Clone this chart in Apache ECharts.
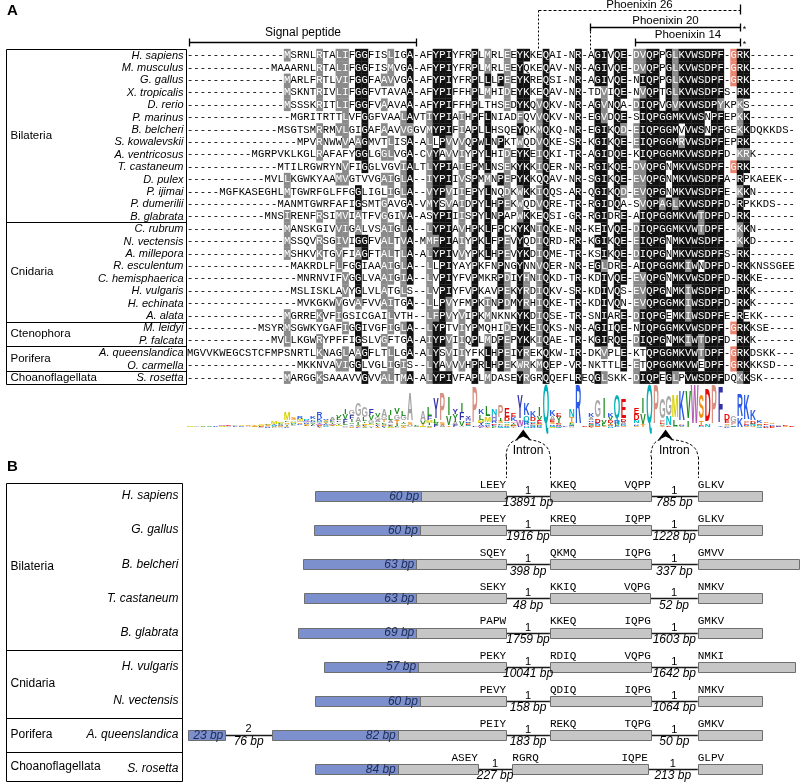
<!DOCTYPE html>
<html>
<head>
<meta charset="utf-8">
<script src="https://cdn.jsdelivr.net/npm/echarts@6.0.0/dist/echarts.min.js"></script>
<style>
html,body{margin:0;padding:0;background:#ffffff;}
#chart{width:800px;height:783px;}
</style>
</head>
<body>
<div id="chart"></div>
<script>
// ================= Panel A data =================
const species = ['H. sapiens','M. musculus','G. gallus','X. tropicalis','D. rerio','P. marinus','B. belcheri',
  'S. kowalevskii','A. ventricosus','T. castaneum','D. pulex','P. ijimai','P. dumerilii','B. glabrata',
  'C. rubrum','N. vectensis','A. millepora','R. esculentum','C. hemisphaerica','H. vulgaris','H. echinata','A. alata',
  'M. leidyi','P. falcata','A. queenslandica','O. carmella','S. rosetta'];
const groupNames = ['Bilateria','Cnidaria','Ctenophora','Porifera','Choanoflagellata'];
const groupSizes = [14, 8, 2, 2, 1];
const seqLeadGaps = [15,13,15,15,15,16,14,17,10,14,12,5,14,12,15,15,15,16,17,16,17,15,11,13,0,17,15];
const seqBodies = [
  'MSRNLRTALIFGGFISLIGA-AFYPIYFRPLMRLEEYKKEQAI-NR-AGIVQE-DVQPPGLKVWSDPF-GRK',
  'MAAARNLRTALIFGGFISMVGA-AFYPIYFRPLMRLEEYQKEQAV-NR-AGIVQE-DVQPPGLKVWSDPF-GRK',
  'MARLFRTLVIFGGFAAVVGA-AFYPIYFRPLLLPEEYKREQSI-NR-AGIVQE-NIQPPGLKVWSDPF-GRK',
  'MSKNTRIVLIFGGFVTAVAA-AFYPIFFHPLMHIDEYKKEQAV-NR-TDVIQE-NVQPTGLKVWSDPFS-RK',
  'MSSSKRITLIFGGFVAAVAA-AFYPIFFHPLTHSEDYKQVQKV-NR-AGVNQA-DIQPVGVKVWSDPYKPKS',
  'MGRITRTTLVFGGFVAALAVTIYPIAIHPFLNIADFQVVQKV-NR-EGVDQE-SIQPGGMKVWSNPFEPKK',
  'MSGTSMRRMVLGIGAFAAVVGGVMYPIFIAPLLHSQEYQKMQKQ-NR-EGIKQD-EIQPGGMVVWSNPFGEKKDQKKDS',
  'MPVRNWWVAAGMVTLISA-ALLPVVVQPWLNPKTWQDVQKE-SR-KGIKQE-EIQPGGMRVWSDPFEPRK',
  'MGRPVKLKGLRAFAFYGGLGGLVGA-CVYAVVIYPYLHIDEYKEIQKI-TR-AGIDQE-KIQPGGMKVWSDPFD-KRK',
  'MTILRGWRYNVFIGGLVGVIALTLYPIAIEPMLNSEKYKKIQER-NR-RGIKQE-DVQPGNMKVWSDPF-GRK',
  'MVLLKGWKYAAMVGTVVGAIGLA--IYPIIVSPMMNPEPYKKQQAV-NR-SGIKQE-EVQPGNMKVWSDPFA-RPKAEEK',
  'MGFKASEGHLMTGWRFGLFFGGLIGLIGLA--VYPVIIEPYLNQDKWKKIQQS-AR-QGIKQD-EVQPGNMKVWSDPFE-KKN',
  'MANMTGWRFAFIGSMTGAVGA-VMYSVAIDPYLHPEKWQDVQRE-TR-RGIDQA-SVQPAGLKVWSDPFD-RPKKDS',
  'MNSIRENFRSIMVIATFVGGIVA-ASYPIIISPYLNPAPWKKEQSI-GR-RGIDRE-AIQPGGMKVWTDPFD-RK',
  'MANSKGIVVIGALVSAIGLA--LYPIAVHPKLFPCKYKNIQKE-NR-KEIVQE-DIQPGGMKVWTDPF--KKN',
  'MSSQVRSGIVIGGFVALTVA-MMFPIAIYPKLFPEVYQDIQRD-RR-KGIKQE-EIQPGNMKVWSDPF--KKD',
  'MSHKVKTGVFIAGFTALTLA-ALYPIVVYPKLHPEVYKDIQME-TR-KSIKQE-DIQPGNMKVWSDPFS-RK',
  'MAKRDLFLFGGIAAAIGLA--LLPIYAYPKFNPNGYNNVQER-NR-EGLDRE-AIQPGGMKIWNDPFD-RKKNSSGEE',
  'MNRNVIFVGGLVAAIGIA--LVPIYFVPMKRPDIYHNIQKD-TR-KDIVQE-EVQPGNMKVWSDPFD-RKKE',
  'MSLISKLAVYGLVLATGLS--LVPIYFVPKAVPEKYRDIQKV-SR-KDIVQS-EVQPGNMKIWSDPFD-RKK',
  'MVKGKWVGVAFVVAITGA--LLPVYFMPKINPDMYRHIQKE-TR-KDIVQN-EVQPGGMKIWSDPFD-RKK',
  'MGRREKVFIGSICGAILVTH--LFPVYVIPKMNKNKYKDIQSE-TR-SNIARE-DIQPGEMKIWSDPFE-REKK',
  'MSYRMSGWKYGAFIGGIVGFIGLA--LYPTVIYPMQHIDEYKEIQKS-NR-AGIIQE-NIQPGGMKVWSDPF-GRKKSE',
  'MVLLKGWRYPFFIGSLVGFTGA-AIYPVIIQPLMDPEPYKKIQAE-TR-KGIRQE-DIQPGNMKIWTDPFD-RKK',
  'MGVVKWEGCSTCFMPSNRTLKNAGLAAGFLTLLGA-ALYSVIIYFKLHPEIYREKQKW-IR-DKVPLE-KTQPGGMKVWTDPF-GRKDSKK',
  'MKKNVAVIGGLVGLIGIS--LYAVVVHPRLHPEKWRKMQEP-VR-NKTTLE-ETQPGGMKVWEDPF-GRKKKSD',
  'MARGGKSAAAVVGVVALTMA-ALYPIVFAPLMDASEYRGRQQEFLREQGLSKK-DIQPEGLPVWSDPFDQKKSK'
];
const alignmentLength = 94;
const amidationColumn = 85;
const regionNames = ['Signal peptide', 'Phoenixin 26', 'Phoenixin 20', 'Phoenixin 14'];
const regionStartCol = [1, 55, 63, 70];
const regionEndCol = [35, 85, 85, 85];
const intronAfterCol = [52, 74];

// ================= Panel B data =================
const geneSpecies = ['H. sapiens','G. gallus','B. belcheri','T. castaneum','B. glabrata','H. vulgaris','N. vectensis','A. queenslandica','S. rosetta'];
const geneGroupNames = ['Bilateria','Cnidaria','Porifera','Choanoflagellata'];
const geneGroupSizes = [5, 2, 1, 1];
const signalExonBp = ['60 bp','60 bp','63 bp','63 bp','69 bp','57 bp','60 bp','82 bp','84 bp'];
// schematic (not-to-scale) positions of exon boundaries, 0-100
const cdsStart   = [21.3, 21.1, 19.3, 19.5, 18.5, 22.7, 21.3, 14.3, 21.3];
const signalEnd  = [38.5, 38.3, 37.7, 37.7, 37.7, 38.0, 38.3, 34.7, 34.7];
const exon1End   = [52.3, 52.3, 52.3, 52.3, 52.3, 52.3, 52.3, 52.3, 47.7];
const exon2Start = [59.4, 59.4, 59.4, 59.4, 59.4, 59.4, 59.4, 59.4, 53.3];
const exon2End   = [75.8, 75.8, 75.8, 75.7, 75.8, 75.8, 75.8, 75.8, 75.3];
const exon3Start = [83.4, 83.4, 83.4, 83.4, 83.4, 83.4, 83.4, 83.4, 83.4];
const exon3End   = [93.8, 93.8, 99.8, 93.8, 93.8, 99.2, 93.8, 93.8, 93.8];
const junctionA = ['LEEY','PEEY','SQEY','SEKY','PAPW','PEKY','PEVY','PEIY','ASEY'];
const junctionB = ['KKEQ','KREQ','QKMQ','KKIQ','KKEQ','RDIQ','QDIQ','REKQ','RGRQ'];
const junctionC = ['VQPP','IQPP','IQPG','VQPG','IQPG','VQPG','IQPG','TQPG','IQPE'];
const junctionD = ['GLKV','GLKV','GMVV','NMKV','GMKV','NMKI','NMKV','GMKV','GLPV'];
const intron1Phase = ['1','1','1','1','1','1','1','1','1'];
const intron2Phase = ['1','1','1','1','1','1','1','1','1'];
const intron1Len = ['13891 bp','1916 bp','398 bp','48 bp','1759 bp','10041 bp','158 bp','183 bp','227 bp'];
const intron2Len = ['785 bp','1228 bp','337 bp','52 bp','1603 bp','1642 bp','1064 bp','50 bp','213 bp'];
const upExonRow = 7;
const upExonStart = 0.7, upExonEnd = 6.7;
const upExonBp = '23 bp', upIntronPhase = '2', upIntronLen = '76 bp';

// ================= styling =================
const SANS = '"Liberation Sans", Arial, sans-serif';
const MONO = '"Liberation Mono", "Courier New", monospace';
const SHADE_FILL = [null, '#8a8a8a', '#111111', '#e9846e'];
const BLUE = '#7b90cc', GREY = '#c6c6c6', BAR_STROKE = '#6e6e6e', BLUE_TEXT = '#1e2b57';
const LOGO_COLORS = {D:'#e60a0a',E:'#e60a0a',C:'#d8d000',M:'#d8d000',K:'#2a5ae6',R:'#2a5ae6',S:'#f09010',T:'#f09010',
  F:'#3232aa',Y:'#3232aa',N:'#00b8c8',Q:'#00b0b8',G:'#a8a8a8',L:'#1a8a1a',V:'#1a8a1a',I:'#1a8a1a',A:'#a0a0a0',
  W:'#b45ab4',H:'#8282d2',P:'#d89080'};
const TABLE_LEFT = 6;
const LOGO_GAP = 44, PX_PER_BIT = 9.2;

// ================= derived =================
const ROWS = species.length;
const alignment = seqBodies.map((b, i) => {
  let s = '-'.repeat(seqLeadGaps[i]) + b;
  if (s.length < alignmentLength) s += '-'.repeat(alignmentLength - s.length);
  return s.slice(0, alignmentLength);
});
const simGroups = ['ILVM','FYW','KRH','DE','NQ','ST','AG'];
const groupOf = ch => { for (const g of simGroups) if (g.indexOf(ch) >= 0) return g; return ch; };
const THRESH = Math.ceil(ROWS * 0.5);
const shadeGrid = alignment.map(() => new Array(alignmentLength).fill(0));
const logoStacks = [];
for (let c = 0; c < alignmentLength; c++) {
  const cnt = {}, gcnt = {}; let n = 0;
  for (let r = 0; r < ROWS; r++) {
    const ch = alignment[r][c]; if (ch === '-') continue;
    n++; cnt[ch] = (cnt[ch] || 0) + 1; const g = groupOf(ch); gcnt[g] = (gcnt[g] || 0) + 1;
  }
  let top = null, nt = 0; for (const k in cnt) if (cnt[k] > nt) { nt = cnt[k]; top = k; }
  let tg = null, ng = 0; for (const k in gcnt) if (gcnt[k] > ng) { ng = gcnt[k]; tg = k; }
  for (let r = 0; r < ROWS; r++) {
    const ch = alignment[r][c]; if (ch === '-') continue;
    if (nt >= THRESH) {
      if (ch === top) shadeGrid[r][c] = 2; else if (groupOf(ch) === groupOf(top)) shadeGrid[r][c] = 1;
    } else if (ng >= THRESH && groupOf(ch) === tg) shadeGrid[r][c] = 1;
    if (c + 1 === amidationColumn && ch === 'G') shadeGrid[r][c] = 3;
  }
  // logo stack
  const stack = [];
  if (n > 0) {
    let H = 0; for (const k in cnt) { const f = cnt[k] / n; H -= f * Math.log2(f); }
    const ic = Math.max(0, Math.log2(20) - H) * (n / ROWS);
    for (const k in cnt) stack.push({ch: k, bits: cnt[k] / n * ic});
    stack.sort((a, b) => a.bits - b.bits);
  }
  logoStacks.push(stack);
}
const cellData = [];
for (let r = 0; r < ROWS; r++) for (let c = 1; c <= alignmentLength; c++) cellData.push([c, r]);
const logoData = []; for (let c = 1; c <= alignmentLength; c++) logoData.push([c, 0]);
const geneData = geneSpecies.map((s, r) => [0, r]);

const crisp = v => Math.round(v) + 0.5;
const mkLine = (x1, y1, x2, y2, st) => ({type: 'line', shape: {x1, y1, x2, y2}, style: Object.assign({stroke: '#000', lineWidth: 1}, st || {})});
const mkText = (t, x, y, st) => ({type: 'text', x, y, style: Object.assign({text: t, fill: '#000', fontFamily: SANS, fontSize: 11, align: 'center', verticalAlign: 'middle'}, st || {})});

function cellRender(params, api) {
  const c = api.value(0), r = api.value(1);
  const p0 = api.coord([c - 0.5, r - 0.5]), p1 = api.coord([c + 0.5, r + 0.5]);
  const ch = alignment[r][c - 1], s = shadeGrid[r][c - 1];
  const kids = [];
  if (s) kids.push({type: 'rect', shape: {x: p0[0], y: p0[1], width: p1[0] - p0[0] + 0.3, height: p1[1] - p0[1] + 0.3}, style: {fill: SHADE_FILL[s]}});
  kids.push(mkText(ch, (p0[0] + p1[0]) / 2, (p0[1] + p1[1]) / 2 + 0.5, {fontFamily: MONO, fontSize: 10.5, fill: s ? '#ffffff' : '#000'}));
  return {type: 'group', children: kids};
}

function logoRender(params, api) {
  const c = api.value(0);
  const stack = logoStacks[c - 1];
  const x = api.coord([c, 0])[0];
  const w = api.coord([c + 0.5, 0])[0] - api.coord([c - 0.5, 0])[0];
  const base = api.coord([c, ROWS - 0.5])[1] + LOGO_GAP;
  const kids = []; let acc = 0;
  const FS = 20;
  for (const it of stack) {
    const h = it.bits * PX_PER_BIT;
    if (h < 0.35) { acc += h; continue; }
    kids.push({type: 'text', x: x, y: base - acc - h / 2, scaleX: (w * 0.92) / (0.72 * FS), scaleY: h / (0.716 * FS),
      style: {text: it.ch, fill: LOGO_COLORS[it.ch] || '#666', fontFamily: SANS, fontWeight: 'bold', fontSize: FS, align: 'center', verticalAlign: 'middle'}});
    acc += h;
  }
  return {type: 'group', children: kids};
}

function annotationRender(params, api) {
  const kids = [];
  const colLeft = c => api.coord([c - 0.5, 0])[0];
  const colRight = c => api.coord([c + 0.5, 0])[0];
  const rowY = r => api.coord([1, r])[1];
  const top = crisp(rowY(-0.5)), bottom = crisp(rowY(ROWS - 0.5));
  const right = crisp(colLeft(1) - 1), left = crisp(TABLE_LEFT);
  kids.push(mkLine(left, top, right, top), mkLine(left, bottom, right, bottom), mkLine(left, top, left, bottom), mkLine(right, top, right, bottom));
  let start = 0;
  groupSizes.forEach((n, gi) => {
    if (gi > 0) kids.push(mkLine(left, crisp(rowY(start - 0.5)), right, crisp(rowY(start - 0.5))));
    kids.push(mkText(groupNames[gi], left + 4, (rowY(start - 0.5) + rowY(start + n - 0.5)) / 2, {align: 'left', fontSize: 11.5}));
    start += n;
  });
  species.forEach((s, r) => kids.push(mkText(s, right - 3, rowY(r) + 0.5, {align: 'right', fontStyle: 'italic', fontSize: 11})));
  // region brackets
  const tTop = rowY(-0.5);
  const lv = [ {ly: tTop - 7, ty: tTop - 16}, {ly: tTop - 39, ty: tTop - 44}, {ly: tTop - 22, ty: tTop - 28}, {ly: tTop - 7, ty: tTop - 14} ];
  regionNames.forEach((nm, i) => {
    const x0 = crisp(colLeft(regionStartCol[i]) + 2), x1 = crisp(colRight(regionEndCol[i]) + 3);
    const ly = crisp(lv[i].ly);
    const labelSt = {fontSize: i === 0 ? 12 : 11.5};
    if (i === 1) {
      kids.push(mkLine(x0, ly, x1, ly, {lineDash: [3, 2]}));
      kids.push(mkLine(x0, ly, x0, crisp(tTop), {lineDash: [2, 2]}));
      kids.push(mkLine(x1, ly - 6, x1, ly + 4, {lineWidth: 1.3}));
    } else {
      kids.push(mkLine(x0, ly, x1, ly, {lineWidth: 1.4}));
      kids.push(mkLine(x0, ly - 4, x0, ly + 4, {lineWidth: 1.3}));
      kids.push(mkLine(x1, ly - 4, x1, ly + 4, {lineWidth: 1.3}));
      if (i === 2) kids.push(mkLine(x0, ly + 4, x0, crisp(tTop), {lineDash: [2, 2]}));
      if (i >= 2) kids.push(mkText('*', x1 + 4, ly + 2, {fontSize: 9}));
    }
    kids.push(mkText(nm, (x0 + x1) / 2, lv[i].ty, labelSt));
  });
  return {type: 'group', children: kids};
}

function geneRender(params, api) {
  const r = api.value(1);
  const y = api.coord([0, r])[1];
  const X = u => api.coord([u, r])[0];
  const H = 10;
  const kids = [];
  const rect = (u0, u1, fill) => ({type: 'rect', shape: {x: crisp(X(u0)), y: crisp(y - H / 2), width: Math.round(X(u1) - X(u0)), height: H}, style: {fill, stroke: BAR_STROKE, lineWidth: 1}});
  const hline = (u0, u1) => mkLine(X(u0), crisp(y), X(u1), crisp(y), {stroke: '#1a1a1a', lineWidth: 1.5});
  if (r === upExonRow) {
    kids.push(hline(upExonEnd, cdsStart[r]));
    kids.push(rect(upExonStart, upExonEnd, BLUE));
    kids.push(mkText(upExonBp, X(upExonEnd) - 2, y + 0.5, {align: 'right', fontStyle: 'italic', fontSize: 12, fill: BLUE_TEXT}));
    const mid = (X(upExonEnd) + X(cdsStart[r])) / 2;
    kids.push(mkText(upIntronPhase, mid, y - 6, {fontSize: 11}));
    kids.push(mkText(upIntronLen, mid, y + 7, {fontStyle: 'italic', fontSize: 12}));
  }
  kids.push(hline(exon1End[r], exon2Start[r]), hline(exon2End[r], exon3Start[r]));
  kids.push(rect(cdsStart[r], signalEnd[r], BLUE), rect(signalEnd[r], exon1End[r], GREY), rect(exon2Start[r], exon2End[r], GREY), rect(exon3Start[r], exon3End[r], GREY));
  kids.push(mkText(signalExonBp[r], X(signalEnd[r]) - 2, y + 0.5, {align: 'right', fontStyle: 'italic', fontSize: 12, fill: BLUE_TEXT}));
  const jst = {fontFamily: MONO, fontSize: 11};
  kids.push(mkText(junctionA[r], X(exon1End[r]), y - 11, Object.assign({align: 'right'}, jst)));
  kids.push(mkText(junctionB[r], X(exon2Start[r]), y - 11, Object.assign({align: 'left'}, jst)));
  kids.push(mkText(junctionC[r], X(exon2End[r]), y - 11, Object.assign({align: 'right'}, jst)));
  kids.push(mkText(junctionD[r], X(exon3Start[r]), y - 11, Object.assign({align: 'left'}, jst)));
  const m1 = (X(exon1End[r]) + X(exon2Start[r])) / 2, m2 = (X(exon2End[r]) + X(exon3Start[r])) / 2;
  kids.push(mkText(intron1Phase[r], m1, y - 5, {fontSize: 11}), mkText(intron1Len[r], m1, y + 7, {fontStyle: 'italic', fontSize: 12}));
  kids.push(mkText(intron2Phase[r], m2, y - 5, {fontSize: 11}), mkText(intron2Len[r], m2, y + 7, {fontStyle: 'italic', fontSize: 12}));
  return {type: 'group', children: kids};
}

function geneTableRender(params, api) {
  const kids = [];
  const rowY = r => api.coord([0, r])[1];
  const top = crisp(rowY(-0.38)), bottom = crisp(rowY(8.38) - 1);
  const right = crisp(api.coord([0, 0])[0] - 2), left = crisp(TABLE_LEFT);
  kids.push(mkLine(left, top, right, top), mkLine(left, bottom, right, bottom), mkLine(left, top, left, bottom), mkLine(right, top, right, bottom));
  let start = 0;
  geneGroupSizes.forEach((n, gi) => {
    const yTop = gi === 0 ? rowY(-0.38) : rowY(start - 0.5);
    const yBot = gi === geneGroupSizes.length - 1 ? rowY(8.38) : rowY(start + n - 0.5);
    if (gi > 0) kids.push(mkLine(left, crisp(yTop), right, crisp(yTop)));
    kids.push(mkText(geneGroupNames[gi], left + 4, (yTop + yBot) / 2, {align: 'left', fontSize: 12}));
    start += n;
  });
  geneSpecies.forEach((s, r) => kids.push(mkText(s, right - 4, rowY(r), {align: 'right', fontStyle: 'italic', fontSize: 12})));
  return {type: 'group', children: kids};
}

const chart = echarts.init(document.getElementById('chart'), null, {renderer: 'canvas', width: 800, height: 783});
chart.setOption({
  animation: false,
  backgroundColor: '#ffffff',
  grid: [
    {left: 186.8, top: 48.8, width: 608.2, height: 334.8},
    {left: 184, top: 483, width: 616, height: 299}
  ],
  xAxis: [
    {gridIndex: 0, type: 'value', min: 0.5, max: alignmentLength + 0.5, show: false},
    {gridIndex: 1, type: 'value', min: 0, max: 100, show: false}
  ],
  yAxis: [
    {gridIndex: 0, type: 'value', min: -0.5, max: ROWS - 0.5, inverse: true, show: false},
    {gridIndex: 1, type: 'value', min: -0.38, max: 8.38, inverse: true, show: false}
  ],
  series: [
    {type: 'custom', xAxisIndex: 0, yAxisIndex: 0, data: cellData, renderItem: cellRender, silent: true, progressive: 0, clip: false},
    {type: 'custom', xAxisIndex: 0, yAxisIndex: 0, data: logoData, renderItem: logoRender, silent: true, clip: false},
    {type: 'custom', xAxisIndex: 0, yAxisIndex: 0, data: [[1, 0]], renderItem: annotationRender, silent: true, clip: false},
    {type: 'custom', xAxisIndex: 1, yAxisIndex: 1, data: [[0, 0]], renderItem: geneTableRender, silent: true, clip: false},
    {type: 'custom', xAxisIndex: 1, yAxisIndex: 1, data: geneData, renderItem: geneRender, silent: true, clip: false}
  ]
});

// panel letters and intron connectors (positions from both grids' scales)
const graphics = [
  {type: 'text', left: 7, top: 3, style: {text: 'A', font: 'bold 15px ' + SANS, fill: '#000'}},
  {type: 'text', left: 7, top: 459, style: {text: 'B', font: 'bold 15px ' + SANS, fill: '#000'}}
];
const logoBase = chart.convertToPixel({gridIndex: 0}, [1, ROWS - 0.5])[1] + LOGO_GAP;
const bRowTop = chart.convertToPixel({gridIndex: 1}, [0, 0])[1] - 18;
const bounds = [[exon1End[0], exon2Start[0]], [exon2End[0], exon3Start[0]]];
intronAfterCol.forEach((col, i) => {
  const ax = chart.convertToPixel({gridIndex: 0}, [col + 0.5, 0])[0];
  const bx1 = chart.convertToPixel({gridIndex: 1}, [bounds[i][0], 0])[0];
  const bx2 = chart.convertToPixel({gridIndex: 1}, [bounds[i][1], 0])[0];
  const tip = logoBase + 2;
  graphics.push({type: 'polygon', shape: {points: [[ax, tip], [ax + 8, tip + 11], [ax, tip + 7], [ax - 8, tip + 11]]}, style: {fill: '#000'}});
  const yMid = tip + 27;
  const ds = {stroke: '#000', lineWidth: 1, lineDash: [3, 2], fill: null};
  graphics.push({type: 'bezierCurve', shape: {x1: ax - 5, y1: tip + 10, x2: bx1, y2: yMid, cpx1: bx1, cpy1: tip + 12}, style: ds});
  graphics.push({type: 'bezierCurve', shape: {x1: ax + 5, y1: tip + 10, x2: bx2, y2: yMid, cpx1: bx2, cpy1: tip + 12}, style: ds});
  graphics.push({type: 'line', shape: {x1: crisp(bx1), y1: yMid, x2: crisp(bx1), y2: bRowTop}, style: ds});
  graphics.push({type: 'line', shape: {x1: crisp(bx2), y1: yMid, x2: crisp(bx2), y2: bRowTop}, style: ds});
  graphics.push({type: 'text', x: (bx1 + bx2) / 2, y: tip + 21, style: {text: 'Intron', fontFamily: SANS, fontSize: 12, fill: '#000', align: 'center', verticalAlign: 'middle'}});
});
chart.setOption({graphic: graphics});
</script>
</body>
</html>
